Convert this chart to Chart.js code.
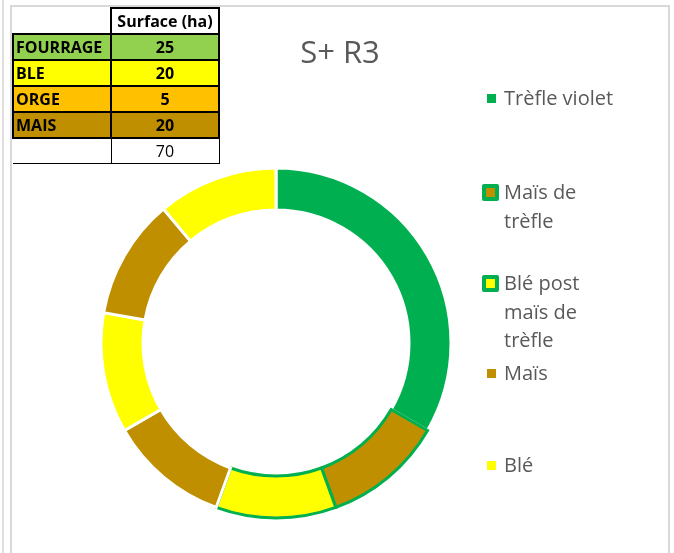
<!DOCTYPE html>
<html lang="fr">
<head>
    <meta charset="UTF-8">
    <title>S+ R3</title>
    <script src="https://cdn.jsdelivr.net/npm/chart.js"></script>
    <style>
        body {
            margin: 0;
            padding: 0;
            background-color: #fff;
            font-family: "Open Sans", Arial, sans-serif;
        }

        .page {
            position: relative;
            width: 674px;
            height: 553px;
            overflow: hidden;
        }

        .grid-line {
            position: absolute;
            left: 2px;
            top: 0;
            width: 2px;
            height: 553px;
            background-color: #dedede;
        }

        .frame {
            position: absolute;
            left: 10px;
            top: 5px;
            width: 656px;
            height: 600px;
            border: 2px solid #d9d9d9;
        }

        #chart {
            position: absolute;
            left: 0;
            top: 0;
        }

        .title {
            position: absolute;
            left: 240px;
            width: 200px;
            top: 30px;
            text-align: center;
            font-size: 31px;
            color: #595959;
        }

        /* little table with the surfaces */
        table.surfaces {
            position: absolute;
            left: 12px;
            top: 7px;
            border-collapse: collapse;
            font-family: "Liberation Sans Narrow", "Open Sans", sans-serif;
            font-weight: bold;
            font-size: 16px;
        }

        table.surfaces td {
            height: 24px;
            padding: 0 2px;
            line-height: 22px;
        }

        table.surfaces td.label {
            width: 92px;
            border: 2px solid #000;
        }

        table.surfaces td.val {
            width: 102px;
            text-align: center;
            border: 2px solid #000;
        }

        table.surfaces td.empty {
            border: none;
        }

        table.surfaces tr.total td {
            font-weight: normal;
            border-width: 1px;
            border-top: none;
        }

        table.surfaces tr.total td.empty {
            border-bottom: 1px solid #000;
        }

        .legend {
            position: absolute;
            left: 482px;
            top: 0;
        }

        .legend-item {
            position: absolute;
            left: 0;
            width: 150px;
        }

        .legend-item .box {
            position: absolute;
            box-sizing: border-box;
        }

        .legend-item .text {
            position: absolute;
            left: 22px;
            top: 0;
            width: 118px;
            font-size: 20px;
            line-height: 28.5px;
            color: #595959;
        }
    </style>
</head>
<body>
    <div class="page">
        <div class="grid-line"></div>
        <div class="frame"></div>
        <canvas id="chart" width="674" height="553"></canvas>
        <div class="title" id="title"></div>
        <table class="surfaces" id="surfaces"></table>
        <div class="legend" id="legend"></div>
    </div>

    <script>
        // crop rotation, one slice per year (from the top, clockwise)
        const chartTitle = 'S+ R3';
        const labels = ['Trèfle violet', 'Maïs de trèfle', 'Blé post maïs de trèfle', 'Maïs', 'Blé', 'Maïs', 'Blé'];
        const years = [3, 1, 1, 1, 1, 1, 1];
        const sliceColors = ['#00B050', '#BF8F00', '#FFFF00', '#BF8F00', '#FFFF00', '#BF8F00', '#FFFF00'];
        const sliceBorders = ['#FFFFFF', '#00B050', '#00B050', '#FFFFFF', '#FFFFFF', '#FFFFFF', '#FFFFFF'];

        // table in the corner
        const cropNames = ['FOURRAGE', 'BLE', 'ORGE', 'MAIS'];
        const surfaces = [25, 20, 5, 20];
        const cropColors = ['#92D050', '#FFFF00', '#FFC000', '#BF8F00'];

        document.getElementById('title').textContent = chartTitle;

        // build the table
        const table = document.getElementById('surfaces');
        let html = '<tr><td class="empty"></td><td class="val">Surface (ha)</td></tr>';
        let total = 0;
        for (let i = 0; i < cropNames.length; i++) {
            total += surfaces[i];
            html += '<tr style="background-color:' + cropColors[i] + '">' +
                '<td class="label">' + cropNames[i] + '</td>' +
                '<td class="val">' + surfaces[i] + '</td></tr>';
        }
        html += '<tr class="total"><td class="empty"></td><td class="val">' + total + '</td></tr>';
        table.innerHTML = html;

        const ctx = document.getElementById('chart').getContext('2d');
        const chart = new Chart(ctx, {
            type: 'doughnut',
            data: {
                labels: labels,
                datasets: [{
                    data: years,
                    backgroundColor: sliceColors,
                    borderColor: sliceBorders,
                    borderWidth: 3,
                    borderJoinStyle: 'miter'
                }]
            },
            options: {
                responsive: false,
                animation: false,
                radius: 175,
                cutout: '76%',
                layout: {
                    padding: { left: 0, right: 122, top: 133, bottom: 0 }
                },
                plugins: {
                    legend: { display: false },
                    tooltip: { enabled: false }
                }
            }
        });

        // legend on the right, one entry per distinct label
        const legendTops = [84, 178, 269, 359, 451];
        const legend = document.getElementById('legend');
        const seen = [];
        labels.forEach(function (label, i) {
            if (seen.indexOf(label) !== -1) return;
            const n = seen.length;
            seen.push(label);

            const item = document.createElement('div');
            item.className = 'legend-item';
            item.style.top = legendTops[n] + 'px';

            const box = document.createElement('div');
            box.className = 'box';
            box.style.backgroundColor = sliceColors[i];
            if (sliceBorders[i] !== '#FFFFFF') {
                box.style.left = '0px';
                box.style.top = '6px';
                box.style.width = '17px';
                box.style.height = '17px';
                box.style.border = '4px solid ' + sliceBorders[i];
                box.style.borderRadius = '2px';
            } else {
                box.style.left = '5px';
                box.style.top = '10px';
                box.style.width = '9px';
                box.style.height = '9px';
            }

            const text = document.createElement('div');
            text.className = 'text';
            text.textContent = label;

            item.appendChild(box);
            item.appendChild(text);
            legend.appendChild(item);
        });
    </script>
</body>
</html>
